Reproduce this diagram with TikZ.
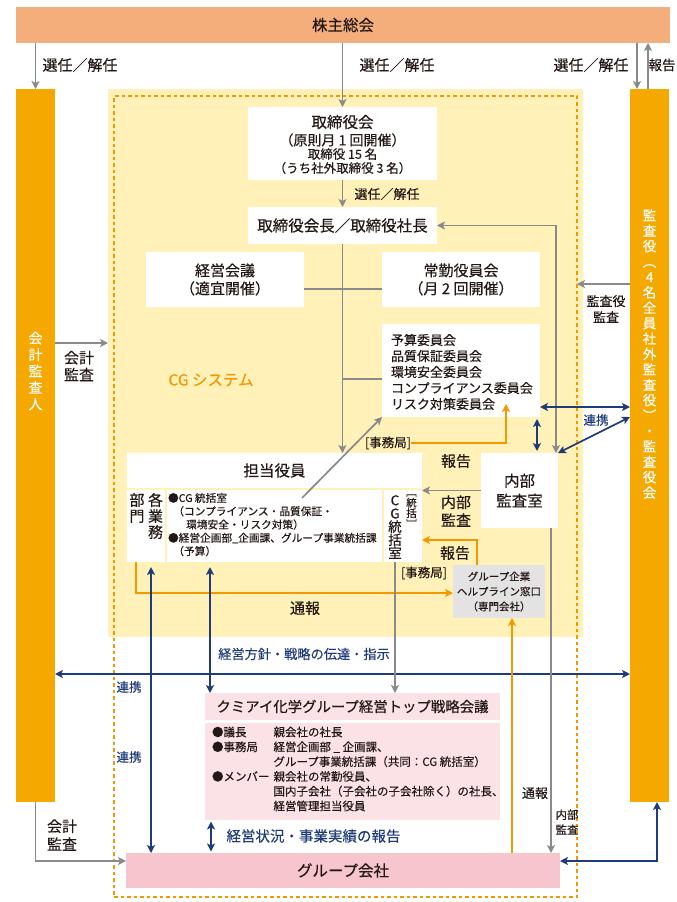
\documentclass[tikz,border=0pt]{standalone}
\usepackage{fontspec}
\setmainfont{Noto Sans CJK JP}[FakeBold=0.35]
\usetikzlibrary{arrows.meta}
\definecolor{salmon}{HTML}{F4AE7C}
\definecolor{obar}{HTML}{F5A800}
\definecolor{ybg}{HTML}{FFF1B8}
\definecolor{odot}{HTML}{F39800}
\definecolor{oarr}{HTML}{F39800}
\definecolor{garr}{HTML}{8A8A8A}
\definecolor{navy}{HTML}{1F3C7A}
\definecolor{pinkl}{HTML}{FBE2E7}
\definecolor{pinkd}{HTML}{F6C5CD}
\definecolor{hgray}{HTML}{E3E3E3}
\definecolor{ink}{HTML}{231815}
\newcommand\fsz[2]{\fontsize{#1pt}{#2pt}\selectfont\lineskiplimit=-30pt\lineskip=0pt}
\tikzset{
  >={Stealth[length=8pt,width=8pt,inset=2pt]},
  wbox/.style={fill=white, inner sep=0pt, outer sep=0pt, align=center, text=ink},
  lbl/.style={inner sep=0pt, outer sep=0pt, align=center, text=ink},
  plain/.style={inner sep=0pt, outer sep=0pt, text=ink},
  nlbl/.style={lbl, text=navy},
  bartxt/.style={inner sep=0pt, outer sep=0pt, align=center, text=white},
  barbox/.style={fill=obar, inner sep=0pt, outer sep=0pt, minimum width=39pt, minimum height=713pt},
  gar/.style={draw=garr, line width=1.7pt, ->},
  gboth/.style={draw=garr, line width=1.7pt, <->},
  gln/.style={draw=garr, line width=1.7pt},
  oar/.style={draw=oarr, line width=1.7pt, ->},
  nboth/.style={draw=navy, line width=1.7pt, <->},
}
\begin{document}
\begin{tikzpicture}[x=1pt,y=-1pt]
\useasboundingbox (0,0) rectangle (677,902);
% regions
\node[fill=ybg, inner sep=0pt, outer sep=0pt, minimum width=475pt, minimum height=548pt] (ybox) at (345.5,363) {};
\node[draw=odot, line width=1.8pt, dash pattern=on 3.5pt off 3pt, inner sep=0pt, outer sep=0pt, minimum width=463pt, minimum height=801pt] (cg) at (345.5,496.5) {};
% top
\node[fill=salmon, lbl, minimum width=654pt, minimum height=36pt, font=\fsz{15.5}{18}] (kabu) at (343,25) {株主総会};
\node[barbox] (kaikei) at (35.5,445.5) {};
\node[barbox] (kansa) at (649.5,445.5) {};
\node[bartxt, font=\fsz{14}{16.5}] (kaikeit) at (35.5,371) {会\\計\\監\\査\\人};
\node[bartxt, font=\fsz{13.5}{15.4}] (kansat) at (649.5,354) {監\\査\\役\\︵\\4\\名\\全\\員\\社\\外\\監\\査\\役\\︶\\・\\監\\査\\役\\会};
\node[lbl, font=\fsz{15}{18}] (l1) at (80,65) {選任／解任};
\node[lbl, font=\fsz{15}{18}] (l2) at (397,65) {選任／解任};
\node[lbl, font=\fsz{15}{18}] (l3) at (591,65) {選任／解任};
\node[lbl, font=\fsz{13.5}{16}] (l4) at (662,65) {報告};
% board
\node[wbox, minimum width=189pt, minimum height=73pt] (tb) at (342.5,143.5) {};
\node[lbl, font=\fsz{15.5}{18}] (tb1) at (342.5,122) {取締役会};
\node[lbl, font=\fsz{14}{17}] (tb2) at (342.5,140) {（原則月 1 回開催）};
\node[lbl, font=\fsz{12.5}{15}] (tb3) at (342.5,154) {取締役 15 名};
\node[lbl, font=\fsz{12.5}{15}] (tb4) at (342.5,168) {（うち社外取締役 3 名）};
\node[lbl, font=\fsz{13}{16}] (l5) at (387,194) {選任／解任};
\node[wbox, minimum width=189pt, minimum height=37pt, font=\fsz{15.5}{18}] (pres) at (342.5,225.5) {取締役会長／取締役社長};
\node[wbox, minimum width=158pt, minimum height=55pt, font=\fsz{15}{18}] (keiei) at (225,279.5) {経営会議\\（適宜開催）};
\node[wbox, minimum width=158pt, minimum height=55pt, font=\fsz{15}{18}] (jokin) at (461,279.5) {常勤役員会\\（月 2 回開催）};
\node[wbox, minimum width=158pt, minimum height=93pt] (comm) at (461,370.5) {};
\node[lbl, align=left, anchor=west, font=\fsz{13}{16}] (commt) at (391,372) {予算委員会\\品質保証委員会\\環境安全委員会\\コンプライアンス委員会\\リスク対策委員会};
\node[lbl, text=odot, font=\fsz{15.5}{18}] (cgs) at (211,380) {CG システム};
% tanto
\node[wbox, minimum width=295pt, minimum height=35pt, font=\fsz{15.5}{18}] (tanto) at (274.5,470.5) {担当役員};
\node[wbox, minimum width=38pt, minimum height=72pt] (c1) at (146,526) {};
\node[wbox, minimum width=215pt, minimum height=72pt] (c2) at (274.5,526) {};
\node[wbox, minimum width=38pt, minimum height=72pt] (c3) at (403,526) {};
\node[lbl, font=\fsz{15}{16}] (c1a) at (155.5,516) {各\\業\\務};
\node[lbl, font=\fsz{15}{16}] (c1b) at (137,508) {部\\門};
\node[lbl, align=left, anchor=north west, font=\fsz{10.7}{13.3}] (c2t) at (168,493) {●CG 統括室\\\hspace*{0.5em}（コンプライアンス・品質保証・\\\hspace*{1.7em}環境安全・リスク対策）\\●経営企画部\_企画課、グループ事業統括課\\\hspace*{0.5em}（予算）};
\node[lbl, font=\fsz{13.5}{13.2}] (c3a) at (395,527) {C\\G\\統\\括\\室};
\node[lbl, font=\fsz{10.5}{10.5}] (c3b) at (411.5,511) {﹇\\統\\括\\﹈};
\node[wbox, minimum width=77pt, minimum height=75pt, font=\fsz{15.5}{20}] (naibu) at (519.5,490.5) {内部\\監査室};
\node[wbox, fill=hgray, minimum width=92pt, minimum height=53pt, font=\fsz{10.5}{15}] (help) at (499,591.5) {グループ企業\\ヘルプライン窓口\\（専門会社）};
% labels
\node[lbl, font=\fsz{12.5}{15}] (jim1) at (388,443) {[事務局]};
\node[lbl, font=\fsz{12.5}{15}] (jim2) at (424,573) {[事務局]};
\node[lbl, font=\fsz{15}{18}] (hk1) at (456,461) {報告};
\node[lbl, font=\fsz{15}{18}] (nk) at (456,511) {内部\\監査};
\node[lbl, font=\fsz{15}{18}] (hk2) at (455,553) {報告};
\node[lbl, font=\fsz{15}{18}] (tsu1) at (305,608) {通報};
\node[nlbl, font=\fsz{13.2}{16}] (hoshin) at (304,654) {経営方針・戦略の伝達・指示};
\node[nlbl, font=\fsz{12.5}{15}] (rk1) at (129,687) {連携};
\node[nlbl, font=\fsz{12.5}{15}] (rk2) at (129,757) {連携};
\node[nlbl, font=\fsz{12.5}{15}] (rk3) at (596,420) {連携};
\node[lbl, font=\fsz{13}{16}] (kk) at (606,309) {監査役\\監査};
\node[lbl, font=\fsz{15}{17}] (kk2) at (79,366) {会計\\監査};
\node[lbl, font=\fsz{15}{18}] (kk3) at (62,835) {会計\\監査};
\node[lbl, font=\fsz{13}{16}] (tsu2) at (535,793) {通報};
\node[lbl, font=\fsz{11.5}{15}] (nk2) at (567,822) {内部\\監査};
\node[nlbl, font=\fsz{14.5}{17}] (jokyo) at (313.5,836) {経営状況・事業実績の報告};
% strategy
\node[wbox, fill=pinkl, minimum width=295pt, minimum height=27pt, font=\fsz{14.4}{17}] (shead) at (352.5,706.5) {クミアイ化学グループ経営トップ戦略会議};
\node[wbox, fill=pinkl, minimum width=295pt, minimum height=97pt] (sbody) at (352.5,771.5) {};
\node[plain, anchor=north west, font=\fontsize{11.5pt}{14.8pt}\selectfont] (sbt) at (212,726) {\begin{tabular}{@{}l@{\hspace{4pt}}l@{}}●議長 & 親会社の社長\\●事務局 & 経営企画部 \_ 企画課、\\ & グループ事業統括課（共同：CG 統括室）\\●メンバー & 親会社の常勤役員、\\ & 国内子会社（子会社の子会社除く）の社長、\\ & 経営管理担当役員\end{tabular}};
\node[wbox, fill=pinkd, minimum width=434pt, minimum height=35pt, font=\fsz{15.5}{18}] (group) at (343,870.5) {グループ会社};
% connectors
\draw[gar] (kabu.south -| kaikei.north) -- (kaikei.north);
\draw[gar] (kabu.south -| tb.north) -- (tb.north);
\coordinate (rd) at (637,89);
\coordinate (ru) at (648,89);
\draw[gar] (kabu.south -| rd) -- (rd);
\draw[gar] (ru) -- (kabu.south -| ru);
\draw[gar] (tb.south) -- (pres.north);
\draw[gar] (pres.south) -- (pres.south |- tanto.north);
\draw[gln] ([yshift=-9.5pt]keiei.east) -- ([yshift=-9.5pt]jokin.west);
\coordinate (cj) at (342.5,379);
\draw[gln] (cj) -- (cj -| comm.west);
\coordinate (dg) at (302,498);
\draw[gar] (dg) -- (comm.south west);
\coordinate (oj) at (506,404);
\draw[oar] (jim1.east) -| (oj);
\coordinate (pn) at (556,225.5);
\draw[gboth] (pres.east) -- (pn) -- (pn |- naibu.north);
\coordinate (cnx) at (537,0);
\draw[nboth, shorten <=2pt, shorten >=2pt] (comm.south -| cnx) -- (naibu.north -| cnx);
\coordinate (cr) at (0,407);
\draw[nboth] (comm.east |- cr) -- (kansa.west |- cr);
\coordinate (kd) at (0,417);
\draw[nboth] (kansa.west |- kd) -- (naibu.north east);
\coordinate (ka) at (0,284);
\draw[gar] (kansa.west |- ka) -- (cg.east |- ka);
\coordinate (kb) at (0,343);
\draw[gar] (kaikei.east |- kb) -- (ybox.west |- kb);
\draw[gar] (naibu.west) -- (naibu.west -| tanto.east);
\coordinate (ho) at (477,540);
\draw[oar] (help.north -| ho) -- (ho) -- (ho -| c3.east);
\coordinate (oc) at (136,593);
\draw[oar] (c1.south -| oc) -- (oc) -- (oc -| help.west);
\coordinate (nx1) at (151,0);
\coordinate (nx2) at (210,0);
\coordinate (gx1) at (395,0);
\coordinate (ox) at (512,0);
\coordinate (gx2) at (551,0);
\coordinate (nx3) at (211,0);
\coordinate (hl) at (0,674);
\draw[nboth] (kaikei.east |- hl) -- (kansa.west |- hl);
\draw[nboth, shorten <=5pt] (c1.south -| nx1) -- (group.north -| nx1);
\draw[nboth, shorten <=5pt] (c2.south -| nx2) -- (shead.north -| nx2);
\draw[gar] (c3.south -| gx1) -- (shead.north -| gx1);
\draw[oar] (group.north -| ox) -- (help.south -| ox);
\draw[gar] (naibu.south -| gx2) -- (group.north -| gx2);
\draw[nboth, shorten <=1.5pt, shorten >=1.5pt] (sbody.south -| nx3) -- (group.north -| nx3);
\coordinate (gl) at (0,861);
\draw[gar] (kaikei.south) |- (group.west |- gl);
\draw[nboth] (group.east |- gl) -| ([xshift=7.5pt]kansa.south);
\end{tikzpicture}
\end{document}
